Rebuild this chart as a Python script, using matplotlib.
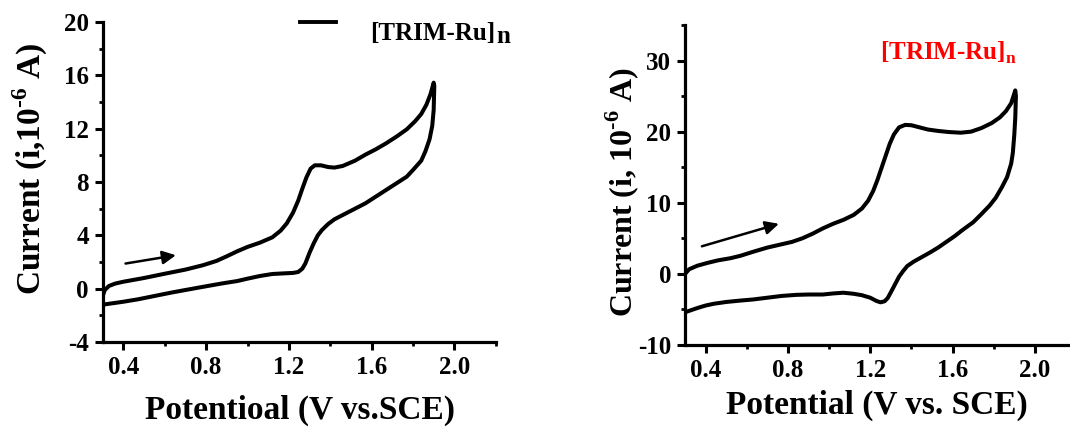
import numpy as np
import matplotlib
matplotlib.use("Agg")
import matplotlib.pyplot as plt
from matplotlib.ticker import MultipleLocator

plt.rcParams['font.family'] = ['Liberation Serif', 'DejaVu Serif']
plt.rcParams['font.weight'] = 'bold'
plt.rcParams['mathtext.fontset'] = 'custom'
plt.rcParams['mathtext.rm'] = 'Liberation Serif:bold'
plt.rcParams['mathtext.bf'] = 'Liberation Serif:bold'
plt.rcParams['axes.unicode_minus'] = False

# ---- CV of the film, panel 1: forward (anodic) and reverse sweep ----
e_fwd1 = [0.300, 0.310, 0.330, 0.360, 0.400, 0.500, 0.600, 0.700, 0.785, 0.850,
          0.900, 0.950, 1.000, 1.060, 1.120, 1.160, 1.190, 1.220, 1.245, 1.265,
          1.285, 1.305, 1.325, 1.355, 1.390, 1.420, 1.460, 1.520, 1.570, 1.620,
          1.670, 1.720, 1.770, 1.810, 1.840, 1.865, 1.885, 1.900]
i_fwd1 = [-0.55, -0.10, 0.20, 0.38, 0.52, 0.80, 1.12, 1.43, 1.76, 2.08,
          2.43, 2.80, 3.13, 3.45, 3.85, 4.35, 4.90, 5.70, 6.60, 7.50,
          8.35, 9.00, 9.25, 9.25, 9.12, 9.08, 9.20, 9.60, 10.05, 10.45,
          10.90, 11.40, 11.95, 12.55, 13.10, 13.80, 14.60, 15.45]
e_rev1 = [1.903, 1.900, 1.893, 1.880, 1.860, 1.840, 1.800, 1.770, 1.720, 1.670,
          1.620, 1.570, 1.520, 1.470, 1.420, 1.390, 1.360, 1.340, 1.320, 1.300,
          1.280, 1.265, 1.245, 1.220, 1.180, 1.120, 1.060, 1.000, 0.950, 0.880,
          0.800, 0.700, 0.630, 0.550, 0.470, 0.400, 0.300]
i_rev1 = [15.20, 13.40, 12.20, 11.20, 10.30, 9.60, 8.90, 8.40, 7.90, 7.40,
          6.90, 6.40, 6.00, 5.60, 5.20, 4.85, 4.40, 4.00, 3.40, 2.70,
          1.90, 1.50, 1.25, 1.18, 1.15, 1.10, 0.95, 0.75, 0.57, 0.40,
          0.18, -0.10, -0.30, -0.55, -0.80, -0.98, -1.20]

# ---- panel 2 ----
e_fwd2 = [0.300, 0.320, 0.360, 0.410, 0.460, 0.520, 0.570, 0.630, 0.700, 0.760,
          0.820, 0.870, 0.920, 0.970, 1.020, 1.070, 1.120, 1.160, 1.190, 1.215,
          1.235, 1.255, 1.275, 1.295, 1.315, 1.340, 1.370, 1.400, 1.440, 1.480,
          1.530, 1.580, 1.640, 1.690, 1.740, 1.790, 1.830, 1.860, 1.885, 1.905]
i_fwd2 = [0.00, 0.65, 1.15, 1.55, 1.90, 2.20, 2.55, 3.10, 3.70, 4.10,
          4.50, 5.00, 5.65, 6.40, 7.05, 7.60, 8.30, 9.20, 10.30, 11.70,
          13.20, 14.90, 16.60, 18.30, 19.60, 20.60, 20.95, 20.90, 20.60, 20.30,
          20.10, 19.95, 19.85, 20.00, 20.50, 21.20, 22.00, 22.90, 24.00, 25.80]
e_rev2 = [1.908, 1.905, 1.900, 1.893, 1.885, 1.865, 1.840, 1.810, 1.780, 1.740,
          1.700, 1.650, 1.610, 1.570, 1.530, 1.490, 1.450, 1.410, 1.380, 1.360,
          1.340, 1.320, 1.300, 1.285, 1.270, 1.250, 1.230, 1.200, 1.160, 1.120,
          1.070, 1.020, 0.970, 0.900, 0.840, 0.770, 0.700, 0.630, 0.570, 0.500,
          0.440, 0.400, 0.360, 0.300]
i_rev2 = [25.00, 22.00, 19.50, 17.00, 15.50, 13.60, 12.20, 10.70, 9.60, 8.40,
          7.25, 6.20, 5.30, 4.50, 3.70, 3.00, 2.35, 1.70, 1.10, 0.40,
          -0.40, -1.50, -2.60, -3.40, -3.85, -4.00, -3.80, -3.35, -3.00, -2.80,
          -2.65, -2.75, -2.90, -2.90, -2.95, -3.10, -3.35, -3.60, -3.75, -3.95,
          -4.20, -4.45, -4.80, -5.40]

x_ticks = [0.4, 0.8, 1.2, 1.6, 2.0]
y_ticks1 = [-4, 0, 4, 8, 12, 16, 20]
y_ticks2 = [-10, 0, 10, 20, 30]
sample = "[TRIM-Ru]"
exp6 = "$^{\\text{-}\\mathbf{6}}$"


def style_axes(ax, xlim, ylim, yticks, yminor):
    ax.set_xlim(*xlim)
    ax.set_ylim(*ylim)
    ax.set_xticks(x_ticks)
    ax.set_yticks(yticks)
    ax.xaxis.set_minor_locator(MultipleLocator(0.2))
    ax.yaxis.set_minor_locator(MultipleLocator(yminor))
    ax.set_xticklabels([f"{v:.1f}" for v in x_ticks])
    ax.set_yticklabels([str(v) for v in yticks])
    for s in ['top', 'right']:
        ax.spines[s].set_visible(False)
    for s in ['left', 'bottom']:
        ax.spines[s].set_linewidth(2.3)
    ax.tick_params(which='major', direction='out', length=6, width=2.2,
                   labelsize=18, pad=4)
    ax.tick_params(which='minor', direction='out', length=3, width=2.0)


fig = plt.figure(figsize=(10.7, 4.29), dpi=100)

# left panel
ax1 = fig.add_axes([0.096, 0.2028, 0.3673, 0.746])
ax1.plot(np.r_[e_fwd1, e_rev1], np.r_[i_fwd1, i_rev1], color='black', lw=2.9,
         solid_joinstyle='round')
style_axes(ax1, (0.3, 2.2), (-4, 20), y_ticks1, 2)
ax1.set_xlabel("Potentioal (V vs.SCE)", fontsize=24, fontweight='bold')
ax1.set_ylabel("Current (i,10" + exp6 + " A)", fontsize=24, fontweight='bold')
ax1.xaxis.set_label_coords(0.502, -0.2125)
ax1.xaxis.label.set_va('center')
ax1.yaxis.set_label_coords(-0.185, 0.54)
ax1.yaxis.label.set_va('center')
ax1.annotate("", xy=(0.667, 2.54), xytext=(0.397, 1.85),
             arrowprops=dict(arrowstyle='-|>', color='black', lw=1.8,
                             mutation_scale=20))
# legend entry: short line + name with a full-size lowered "n"
ax1.plot([1.253, 1.428], [20, 20], color='black', lw=2.8, clip_on=False)
t1 = ax1.text(1.593, 19.1, sample, fontsize=18, fontweight='bold',
              va='center', ha='left')
ax1.annotate("n", xy=(1.0, 0.0), xycoords=t1, xytext=(0.5, -2),
             textcoords='offset points', fontsize=18, fontweight='bold',
             va='bottom', ha='left')

# right panel
ax2 = fig.add_axes([0.6402, 0.1958, 0.3654, 0.746])
ax2.plot(np.r_[e_fwd2, e_rev2], np.r_[i_fwd2, i_rev2], color='black', lw=2.9,
         solid_joinstyle='round')
style_axes(ax2, (0.3, 2.2), (-10, 35), y_ticks2, 5)
ax2.set_xlabel("Potential (V vs. SCE)", fontsize=24, fontweight='bold')
ax2.set_ylabel("Current (i, 10" + exp6 + " A)", fontsize=23, fontweight='bold')
ax2.xaxis.set_label_coords(0.49, -0.1875)
ax2.xaxis.label.set_va('center')
ax2.yaxis.set_label_coords(-0.16, 0.478)
ax2.yaxis.label.set_va('center')
ax2.annotate("", xy=(0.769, 7.15), xytext=(0.369, 3.77),
             arrowprops=dict(arrowstyle='-|>', color='black', lw=1.8,
                             mutation_scale=20))
ax2.text(1.247, 31.05, sample + "$_\\mathbf{n}$", fontsize=18, fontweight='bold',
         color='red', va='center', ha='left')

fig.savefig("out.png", dpi=100)
